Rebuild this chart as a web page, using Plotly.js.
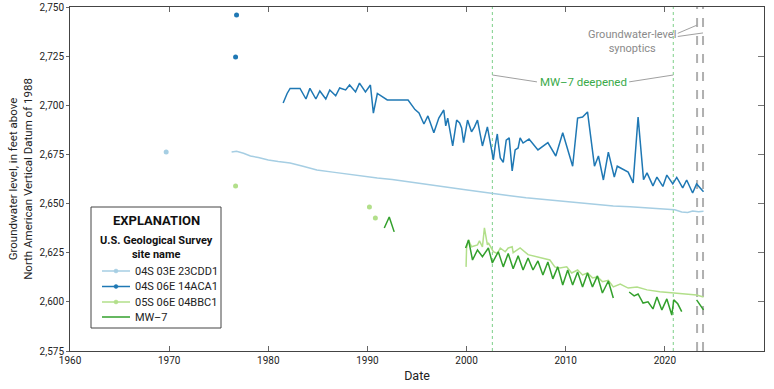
<!DOCTYPE html>
<html>
<head>
<meta charset="utf-8">
<script src="https://cdn.plot.ly/plotly-3.0.1.min.js"></script>
<style>html,body{margin:0;padding:0;background:#fff;}#chart{width:774px;height:389px;}</style>
</head>
<body>
<div id="chart"></div>
<script>
// ---------- Data (decimal year, feet above NAVD 88); null separates gaps ----------
const siteNames = ["04S 03E 23CDD1", "04S 06E 14ACA1", "05S 06E 04BBC1", "MW\u20137"];

const site1X = [1969.7, null, 1976.3, 1976.8, 1977.5, 1978.2, 1979, 1980, 1981, 1982.2, 1983.5, 1984.9, 1986.5, 1988, 1989.5, 1991, 1992.5, 1994, 1996.3, 1998.3, 1999.7, 2001, 2002.6, 2004, 2006, 2008, 2010.1, 2012, 2014.8, 2016.5, 2018.5, 2020.5, 2021, 2021.7, 2022.3, 2022.8, 2023.4, 2023.9];
const site1Y = [2676.2, null, 2676.2, 2676.6, 2675.6, 2674.2, 2673.4, 2672.2, 2671.4, 2670.6, 2669, 2667.1, 2666, 2664.9, 2664, 2663, 2662.2, 2661.2, 2659.5, 2658.5, 2657.2, 2656.3, 2655, 2654.2, 2653, 2652, 2651, 2650.2, 2648.8, 2648.4, 2647.8, 2647.3, 2646.8, 2645.7, 2645.5, 2646.2, 2645.9, 2646.1];

const site2X = [1976.7, null, 1976.8, null,
  1981.5, 1981.9, 1982.2, 1983.2, 1983.8, 1984.2, 1984.8, 1985.2, 1985.8, 1986.2, 1986.8, 1987.2, 1987.8, 1988.2, 1988.8, 1989.2, 1989.8, 1990.3, 1990.6, 1991,
  1992, 1994.1, 1994.8, 1995.2, 1995.7, 1996.1, 1996.7, 1997.2, 1997.7, 1997.9, 1998.1, 1998.6, 1999, 1999.3, 1999.5, 1999.7,
  2000.1, 2000.5, 2000.8, 2001.1, 2001.6, 2002, 2002.1, 2002.5, 2002.7, 2002.9, 2003.1, 2003.2, 2003.4, 2003.7, 2004, 2004.3, 2004.6, 2004.9, 2005.2, 2005.4, 2005.7, 2006.3,
  2007.2, 2008.2, 2009, 2009.7, 2010.7, 2011.2, 2011.7, 2012.2, 2012.9, 2013.3, 2013.8, 2014.3, 2014.9, 2015.2, 2016.3, 2016.8, 2017.3, 2017.85,
  2018.2, 2018.8, 2019.2, 2019.8, 2020.2, 2020.8, 2021.2, 2021.8, 2022.2, 2022.8, 2023.2, 2023.9];
const site2Y = [2724.6, null, 2745.9, null,
  2701.2, 2706, 2708.6, 2708.6, 2703.2, 2708.6, 2703.2, 2707.3, 2703.2, 2707.8, 2704.8, 2708.8, 2707.8, 2710.3, 2706.8, 2711.3, 2706.8, 2710.3, 2696, 2706,
  2702.7, 2702.7, 2697.8, 2696.1, 2690.5, 2694.6, 2686, 2693.5, 2697.6, 2689.5, 2693.5, 2679.3, 2692.5, 2691, 2688.5, 2681,
  2692.5, 2686.5, 2689, 2692.5, 2679.3, 2686.5, 2689, 2678, 2672.2, 2679.8, 2685.4, 2680.8, 2673.2, 2671, 2682.3, 2683.4, 2666.6, 2677.3, 2678.3, 2683.4, 2680.8, 2682.8,
  2677.3, 2681, 2674.2, 2686, 2669, 2693.5, 2694, 2696.6, 2669, 2674.2, 2662, 2676.2, 2663.5, 2669, 2666, 2660.5, 2694, 2662.2,
  2665.6, 2659, 2663.5, 2658.7, 2664.5, 2660, 2663.3, 2658, 2662, 2655.4, 2660, 2656];

const site3X = [1976.7, null, 1990.2, null, 1990.8, null,
  1999.95, 2000.0, 2000.2, 2000.5, 2001.1, 2001.3, 2001.6, 2001.8, 2002.1, 2002.2, 2002.7, 2003.1, 2003.4, 2003.9, 2004.2, 2004.6, 2004.7, 2005.4, 2006.2, 2007.6, 2008.4, 2008.9, 2009.4, 2010.1,
  2010.6, 2011.2, 2011.7, 2012.2, 2012.7, 2013.2, 2013.7, 2014.3, 2014.8, 2015.5, 2016.3, 2017.2, 2018.2, 2019.5, 2020.8, 2022.2, 2023.2, 2023.9];
const site3Y = [2659, null, 2648.3, null, 2642.7, null,
  2617.8, 2627.4, 2631.5, 2628, 2629, 2631, 2628, 2637.6, 2629, 2630, 2625.5, 2624.6, 2627.4, 2625.5, 2627.4, 2628, 2625, 2627.4, 2624, 2622.3, 2621.3, 2617.8, 2617.2, 2617.8,
  2614.7, 2616.2, 2613.7, 2614.7, 2612.2, 2612.7, 2610.3, 2611, 2607.6, 2609, 2607, 2607.6, 2606.1, 2605.2, 2604.5, 2604, 2603.5, 2602.5];

const mw7X = [1991.7, 1992.2, 1992.7, null,
  1999.9, 2000.2, 2000.6, 2001.1, 2001.6, 2002.2, 2002.6, 2003.2, 2003.7, 2004.2, 2004.7, 2005.2, 2005.7, 2006.2, 2006.7, 2007.2, 2007.7, 2008.2, 2008.7, 2009.2, 2009.7, 2010.2, 2010.7, 2011.2, 2011.7, 2012.2, 2012.7, 2013.2, 2013.7, 2014.3, 2014.8, null,
  2016.4, 2016.9, 2017.3, 2017.8, 2018.3, 2018.8, 2019.2, 2019.7, 2020.2, 2020.7, 2020.9, 2021.3, 2021.7, null,
  2023.2, 2023.9];
const mw7Y = [2637.6, 2643.2, 2635.6, null,
  2627.4, 2631.5, 2621.3, 2626.4, 2623, 2627.4, 2619.8, 2625.5, 2617.8, 2624.6, 2616.8, 2623.4, 2616.2, 2622.3, 2616.2, 2620.8, 2613.7, 2620.3, 2611.7, 2617.8, 2608.6, 2616.2, 2608.6, 2615.2, 2607.6, 2614.7, 2607.6, 2613.2, 2604.5, 2610.6, 2602, null,
  2605, 2603, 2604, 2599.4, 2600, 2596.4, 2602.5, 2595.9, 2601.5, 2593.3, 2601, 2599, 2595, null,
  2601, 2595.9];

const deepenedDates = [2002.6, 2020.85];
const synopticDates = [2023.25, 2023.85];
const xTicks = [1960, 1970, 1980, 1990, 2000, 2010, 2020, 2030];
const yTicks = [2575, 2600, 2625, 2650, 2675, 2700, 2725, 2750];

// ---------- Styling ----------
const colors = ["#a6cee3", "#1f78b4", "#b2df8a", "#33a02c"];
const FONT = "Roboto, 'Liberation Sans Narrow', 'DejaVu Sans Condensed', sans-serif";
const W = 774, H = 389;
const M = {l: 70, r: 10, t: 7, b: 38};
// pixel -> paper helpers for layout furniture (legend box etc.)
const pxX = v => (v - M.l) / (W - M.l - M.r);
const pxY = v => (H - M.b - v) / (H - M.t - M.b);

function split(xs, ys) {
  const pts = {x: [], y: []}, line = {x: [], y: []};
  for (let i = 0; i < ys.length; i++) {
    if (ys[i] === null) { line.x.push(null); line.y.push(null); continue; }
    const prevNull = i === 0 || ys[i - 1] === null;
    const nextNull = i === ys.length - 1 || ys[i + 1] === null;
    if (prevNull && nextNull) { pts.x.push(xs[i], null); pts.y.push(ys[i], null); }
    else { line.x.push(xs[i]); line.y.push(ys[i]); }
  }
  return {pts, line};
}

const series = [[site1X, site1Y], [site2X, site2Y], [site3X, site3Y], [mw7X, mw7Y]];
const traces = [];
const hasPoints = [];
series.forEach((s, k) => {
  const {pts, line} = split(s[0], s[1]);
  hasPoints.push(pts.x.length > 0);
  traces.push({
    x: line.x, y: line.y, type: "scatter", mode: "lines", connectgaps: false,
    line: {color: colors[k], width: 1.5},
    name: siteNames[k], showlegend: false, hoverinfo: "skip"
  });
  if (pts.x.length) {
    traces.push({
      x: pts.x, y: pts.y, type: "scatter", mode: "markers",
      marker: {color: colors[k], size: 5},
      name: siteNames[k], showlegend: false, hoverinfo: "skip"
    });
  }
});
traces.push({x: [null], y: [null], yaxis: "y2", type: "scatter", showlegend: false, hoverinfo: "skip"});

// ---------- Shapes & annotations ----------
const shapes = [];
deepenedDates.forEach(d => shapes.push({type: "line", xref: "x", yref: "paper", x0: d, x1: d, y0: 0, y1: 1,
  line: {color: "#7ccf88", width: 1, dash: "dot"}, layer: "below"}));
synopticDates.forEach(d => shapes.push({type: "line", xref: "x", yref: "paper", x0: d, x1: d, y0: 0, y1: 1,
  line: {color: "#b0b0b0", width: 2, dash: "dash"}, layer: "below"}));
// leader lines
const leader = {color: "#a0a0a0", width: 1};
shapes.push({type: "line", xref: "x", yref: "y", x0: deepenedDates[0], y0: 2715.4, x1: 2007.1, y1: 2711.9, line: leader});
shapes.push({type: "line", xref: "x", yref: "y", x0: 2016.4, y0: 2711.9, x1: deepenedDates[1], y1: 2715.4, line: leader});
shapes.push({type: "line", xref: "x", yref: "y", x0: 2021.3, y0: 2736.6, x1: synopticDates[0], y1: 2740.8, line: leader});
shapes.push({type: "line", xref: "x", yref: "y", x0: 2021.3, y0: 2735.0, x1: synopticDates[1], y1: 2736.8, line: leader});

const annotations = [
  {x: 2011.75, y: 2711.9, xref: "x", yref: "y", text: "MW\u20137 deepened", showarrow: false,
   font: {family: FONT, size: 11.5, color: "#3aaa4a"}},
  {x: 2016.7, y: 2732.4, xref: "x", yref: "y", text: "Groundwater-level<br>synoptics", showarrow: false,
   font: {family: FONT, size: 11, color: "#8a8a8a"}, align: "center"}
];

// ---------- Explanation box (legend) ----------
const box = {l: 91, r: 221, t: 207, b: 328};
const boxCx = (box.l + box.r) / 2;
shapes.push({type: "rect", xref: "paper", yref: "paper", x0: pxX(box.l), x1: pxX(box.r), y0: pxY(box.b), y1: pxY(box.t),
  line: {color: "#444", width: 1}, fillcolor: "#fff", layer: "above"});
annotations.push({xref: "paper", yref: "paper", x: pxX(boxCx), y: pxY(220), text: "<b>EXPLANATION</b>", showarrow: false,
  font: {family: FONT, size: 13, color: "#111"}, xanchor: "center", yanchor: "middle"});
annotations.push({xref: "paper", yref: "paper", x: pxX(boxCx), y: pxY(247), text: "<b>U.S. Geological Survey</b><br><b>site name</b>", showarrow: false,
  font: {family: FONT, size: 11, color: "#111"}, xanchor: "center", yanchor: "middle", align: "center"});
const rowY = [271, 286.5, 302, 317];
siteNames.forEach((name, k) => {
  const y = pxY(rowY[k]);
  shapes.push({type: "line", xref: "paper", yref: "paper", x0: pxX(102), x1: pxX(130), y0: y, y1: y,
    line: {color: colors[k], width: 1.5}, layer: "above"});
  if (hasPoints[k]) {
    shapes.push({type: "circle", xref: "paper", yref: "paper", x0: pxX(114), x1: pxX(118), y0: pxY(rowY[k] + 2), y1: pxY(rowY[k] - 2),
      fillcolor: colors[k], line: {color: colors[k], width: 0.5}, layer: "above"});
  }
  annotations.push({xref: "paper", yref: "paper", x: pxX(133), y: y, text: name, showarrow: false,
    font: {family: FONT, size: 11, color: "#222"}, xanchor: "left", yanchor: "middle"});
});

const layout = {
  width: W, height: H,
  margin: {l: M.l, r: M.r, t: M.t, b: M.b, pad: 0},
  paper_bgcolor: "#fff", plot_bgcolor: "#fff",
  font: {family: FONT, size: 10, color: "#222"},
  showlegend: false,
  xaxis: {
    range: [1960, 2030], tickvals: xTicks, ticktext: xTicks.map(String),
    ticks: "inside", ticklen: 5, tickcolor: "#666", mirror: "ticks",
    showline: true, linecolor: "#444", linewidth: 1, showgrid: false, zeroline: false,
    tickfont: {family: FONT, size: 10, color: "#222"},
    title: {text: "Date", font: {family: FONT, size: 12.5, color: "#222"}, standoff: 6}
  },
  yaxis: {
    range: [2575, 2750], tickvals: yTicks, tickformat: ",d",
    ticks: "outside", ticklen: 3, tickcolor: "#666", mirror: true,
    showline: true, linecolor: "#444", linewidth: 1, showgrid: false, zeroline: false,
    tickfont: {family: FONT, size: 10, color: "#222"},
    title: {text: "Groundwater level, in feet above<br>North American Vertical Datum of 1988",
            font: {family: FONT, size: 11.5, color: "#222"}, standoff: 4}
  },
  yaxis2: {
    overlaying: "y", side: "right", range: [2575, 2750], tickvals: yTicks,
    ticks: "inside", ticklen: 6, tickcolor: "#777", showticklabels: false,
    showline: false, showgrid: false, zeroline: false
  },
  shapes: shapes,
  annotations: annotations
};

Plotly.newPlot("chart", traces, layout, {staticPlot: true, displayModeBar: false});
</script>
</body>
</html>
